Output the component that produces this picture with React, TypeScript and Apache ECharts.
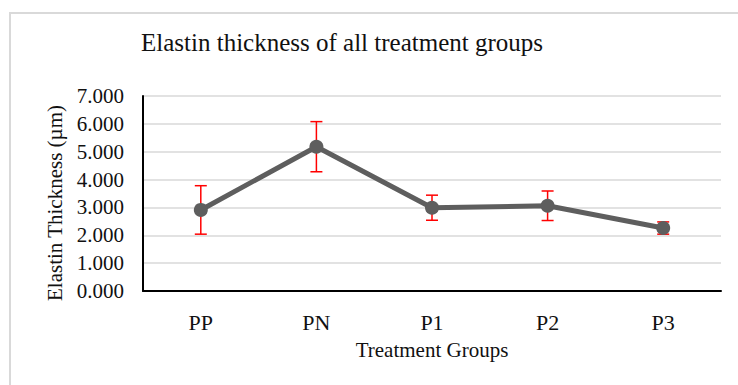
import React, { useEffect, useRef } from "react";
import * as echarts from "echarts";

const categories = ["PP", "PN", "P1", "P2", "P3"];
const means = [2.91, 5.18, 2.99, 3.06, 2.26];
const errors = [0.87, 0.9, 0.45, 0.53, 0.22];
const yTicks = { min: 0, max: 7, interval: 1 };

const FONT = "'Liberation Serif', 'Times New Roman', serif";

export default function App() {
  const ref = useRef<HTMLDivElement>(null);
  useEffect(() => {
    if (!ref.current) return;
    const chart = echarts.init(ref.current, undefined, { renderer: "svg" });
    const errData = categories.map((c, i) => [i, means[i] - errors[i], means[i] + errors[i]]);
    chart.setOption({
      animation: false,
      backgroundColor: "#ffffff",
      title: {
        text: "Elastin thickness of all treatment groups",
        left: 141,
        top: 30,
        padding: 0,
        textStyle: { fontFamily: FONT, fontSize: 25, fontWeight: "normal", color: "#111" },
      },
      graphic: [
        {
          type: "rect",
          shape: { x: 10, y: 13, width: 760, height: 420 },
          style: { fill: "none", stroke: "#d9d9d9", lineWidth: 2 },
          silent: true,
        },
      ],
      grid: { left: 143, right: 17, top: 96, bottom: 94, containLabel: false },
      xAxis: {
        type: "category",
        data: categories,
        boundaryGap: true,
        axisLine: { lineStyle: { color: "#000", width: 2 } },
        axisTick: { show: false },
        axisLabel: { fontFamily: FONT, fontSize: 22, color: "#111", margin: 20 },
        name: "Treatment Groups",
        nameLocation: "middle",
        nameGap: 48,
        nameTextStyle: { fontFamily: FONT, fontSize: 21, color: "#111" },
      },
      yAxis: {
        type: "value",
        min: yTicks.min,
        max: yTicks.max,
        interval: yTicks.interval,
        axisLine: { show: true, lineStyle: { color: "#000", width: 2 } },
        axisTick: { show: false },
        splitLine: { lineStyle: { color: "#d9d9d9", width: 1.5 } },
        axisLabel: {
          fontFamily: FONT,
          fontSize: 21,
          color: "#111",
          margin: 19,
          formatter: (v: number) => v.toFixed(3),
        },
        name: "Elastin Thickness (µm)",
        nameLocation: "middle",
        nameGap: 76,
        nameTextStyle: { fontFamily: FONT, fontSize: 21, color: "#111", padding: [0, 19, 0, 0] },
      },
      series: [
        {
          type: "custom",
          z: 1,
          data: errData,
          renderItem: (params: any, api: any) => {
            const x = api.value(0);
            const lo = api.coord([x, api.value(1)]);
            const hi = api.coord([x, api.value(2)]);
            const hw = 6;
            const style = { stroke: "#ff0000", lineWidth: 1.5 };
            return {
              type: "group",
              children: [
                { type: "line", shape: { x1: lo[0], y1: lo[1], x2: hi[0], y2: hi[1] }, style },
                { type: "line", shape: { x1: lo[0] - hw, y1: lo[1], x2: lo[0] + hw, y2: lo[1] }, style },
                { type: "line", shape: { x1: hi[0] - hw, y1: hi[1], x2: hi[0] + hw, y2: hi[1] }, style },
              ],
            };
          },
        },
        {
          type: "line",
          z: 3,
          data: means,
          symbol: "circle",
          symbolSize: 14,
          lineStyle: { color: "#5e5e5e", width: 5 },
          itemStyle: { color: "#5e5e5e" },
        },
      ],
    });
    return () => chart.dispose();
  }, []);
  return (
    <div
      ref={ref}
      style={{ position: "fixed", left: 0, top: 0, width: 738, height: 385 }}
    />
  );
}
